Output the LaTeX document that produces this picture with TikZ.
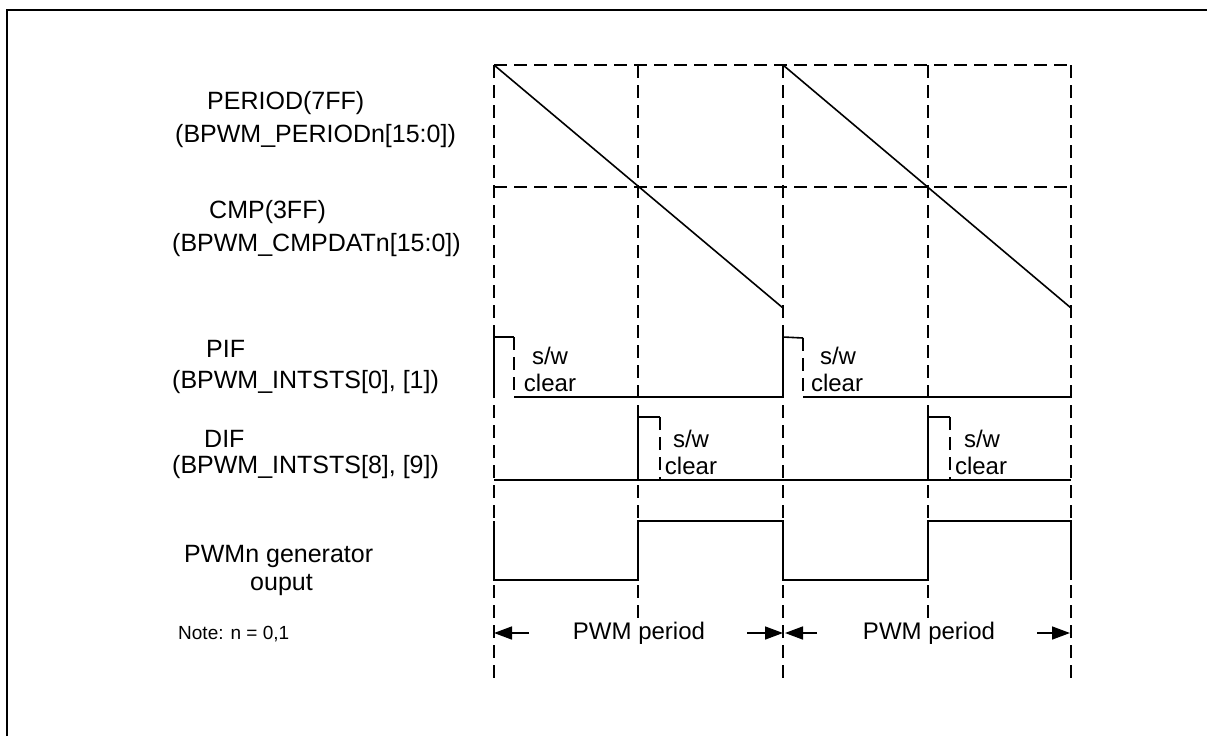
\documentclass[tikz,border=0pt]{standalone}
\usepackage{fontspec}
\setmainfont{Liberation Sans}
\usetikzlibrary{arrows.meta}
\begin{document}
\begin{tikzpicture}[x=1pt,y=-1pt,
  sig/.style={line width=1.6pt},
  grid/.style={line width=1.4pt, dash pattern=on 13pt off 7pt},
  lbl/.style={font=\fontsize{25}{29}\selectfont, inner sep=0pt, anchor=west},
  small/.style={font=\fontsize{19}{23}\selectfont, inner sep=0pt, anchor=west},
  ctr/.style={font=\fontsize{24}{28}\selectfont, inner sep=0pt},
  arr/.style={line width=1.6pt, -{Triangle[length=18pt,width=13pt]}}]
\useasboundingbox (0,0) rectangle (1207,736);
% frame
\draw[line width=2.2pt] (7,736) -- (7,10) -- (1207,10);
% grid
\foreach \x in {494,783,1071} \draw[grid] (\x,65) -- (\x,685);
\foreach \x in {638,928} \draw[grid] (\x,65) -- (\x,620);
\draw[grid] (494,65) -- (1071,65);
\draw[grid] (494,187) -- (1071,187);
% sawtooth
\draw[sig] (494,65) -- (783,308);
\draw[sig] (783,65) -- (1071,308);
% PIF
\draw[sig] (494,398) -- (494,337) -- (514,337);
\draw[grid] (514,337) -- (514,397);
\draw[sig] (514,397) -- (783,397) -- (783,337) -- (803,338);
\draw[grid] (803,338) -- (803,397);
\draw[sig] (803,397) -- (1071,397);
% DIF
\draw[sig] (494,480) -- (1071,480);
\draw[sig] (638,480) -- (638,417) -- (660,417);
\draw[grid] (660,417) -- (660,480);
\draw[sig] (928,480) -- (928,417) -- (950,417);
\draw[grid] (950,417) -- (950,480);
% PWM output
\draw[sig] (494,521) -- (494,580) -- (638,580) -- (638,521) -- (783,521) -- (783,580)
  -- (928,580) -- (928,521) -- (1071,521) -- (1071,580);
% period arrows
\coordinate (a1) at (494,633); \coordinate (a1t) at (529,633);
\coordinate (a2) at (783,633); \coordinate (a2t) at (747,633);
\coordinate (a3) at (785,633); \coordinate (a3t) at (817,633);
\coordinate (a4) at (1070,633); \coordinate (a4t) at (1037,633);
\draw[arr] (a1t) -- (a1);
\draw[arr] (a2t) -- (a2);
\draw[arr] (a3t) -- (a3);
\draw[arr] (a4t) -- (a4);
\node[ctr] (p1) at (639,633) {PWM period};
\node[ctr] (p2) at (929,633) {PWM period};
% s/w clear
\node[ctr] (sw1) at (550,356) {s/w};
\node[ctr] (cl1) at (550,383) {clear};
\node[ctr] (sw2) at (838,356) {s/w};
\node[ctr] (cl2) at (837,383) {clear};
\node[ctr] (sw3) at (691,439) {s/w};
\node[ctr] (cl3) at (691,466) {clear};
\node[ctr] (sw4) at (982,439) {s/w};
\node[ctr] (cl4) at (981,466) {clear};
% left labels
\node[lbl] (l1) at (207,103) {PERIOD(7FF)};
\node[lbl] (l2) at (175,136) {(BPWM\_PERIODn[15:0])};
\node[lbl] (l3) at (209,212) {CMP(3FF)};
\node[lbl] (l4) at (172,245) {(BPWM\_CMPDATn[15:0])};
\node[lbl] (l5) at (206,349) {PIF};
\node[lbl] (l6) at (172,382) {(BPWM\_INTSTS[0], [1])};
\node[lbl] (l7) at (204,439) {DIF};
\node[lbl] (l8) at (172,467) {(BPWM\_INTSTS[8], [9])};
\node[lbl] (l9) at (184,556) {PWMn generator};
\node[lbl] (l10) at (250,585) {ouput};
\node[small] (l11) at (178,634) {Note: n = 0,1};
\end{tikzpicture}
\end{document}
